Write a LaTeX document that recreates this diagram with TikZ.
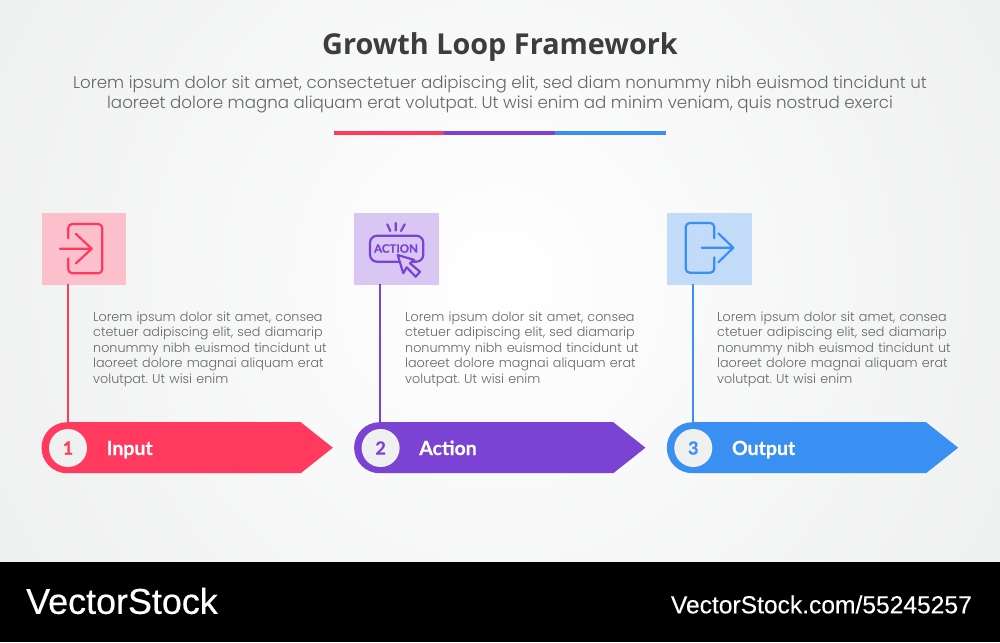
\documentclass[tikz,border=0pt]{standalone}
\usepackage{fontspec}
\setmainfont{Poppins Light}
\newfontfamily\titlefont{Open Sans}
\newfontfamily\labelfont[BoldFeatures={FakeBold=0.5}]{Lato}
\newfontfamily\brandfont[FakeBold=0.5]{Liberation Sans}
\newfontfamily\urlfont[FakeBold=0.2]{Liberation Sans}
\definecolor{cred}{HTML}{FF3A5E}
\definecolor{cpurple}{HTML}{7B43D3}
\definecolor{cblue}{HTML}{3A8FF3}
\definecolor{sred}{HTML}{FBC0CC}
\definecolor{spurple}{HTML}{D9C6F3}
\definecolor{sblue}{HTML}{C2DBF8}
\definecolor{txt}{HTML}{666666}
\definecolor{edge}{HTML}{EFF0F0}
\tikzset{
  icon/.style={line width=2.2pt,line cap=round,line join=round},
  square/.style={fill=#1,draw=none},
  para/.style={anchor=north west,inner sep=0pt,align=left,text=txt,font=\frenchspacing\fontsize{12.75}{15.5}\selectfont,text width=250pt},
  numtext/.style={font=\labelfont\bfseries\fontsize{18}{18}\selectfont},
  lab/.style={anchor=base west,inner sep=0pt,text=white,font=\labelfont\bfseries\fontsize{19.5}{20}\selectfont},
}
\newcommand{\bodytext}{Lorem ipsum dolor sit amet, consea\\ctetuer adipiscing elit, sed diamarip\\nonummy nibh euismod tincidunt ut\\laoreet dolore magnai aliquam erat\\volutpat. Ut wisi enim}
% #1 name, #2 x offset, #3 color, #4 square color, #5 number, #6 label, #7 text x
\newcommand{\column}[7]{%
  \begin{scope}[xshift=#2pt]
    \node[square=#4,anchor=north west,minimum width=84.5pt,minimum height=71.3pt,inner sep=0pt] (sq#1) at (41.5,213) {};
    \fill[#3] (67,473.2) arc[start angle=90,end angle=270,radius=25.5] -- (300.7,422.2) -- (332.8,447.7) -- (300.7,473.2) -- cycle;
    \coordinate (ban#1) at (67.7,422.5);
    \coordinate (sqb#1) at (67.7,284.3);
    \draw[#3,line width=2.2pt] (sqb#1) -- (ban#1);
    \node[circle,fill=edge,minimum size=38pt,inner sep=0pt,text=#3,numtext] (num#1) at (68,448) {#5};
    \node[lab] (lab#1) at (106.5,455) {#6};
    \node[para] (par#1) at (#7,311.5) {\bodytext};
  \end{scope}
}
\begin{document}
\begin{tikzpicture}[x=1pt,y=-1pt]
\useasboundingbox (0,0) rectangle (1000,642);
\begin{scope}
  \clip (0,0) rectangle (1000,562);
  \fill[edge] (0,0) rectangle (1000,562);
  \shade[inner color=white,outer color=edge] (500,281) circle (560);
\end{scope}
\fill[black] (0,562) rectangle (1000,642);
\node[inner sep=0pt,text=black!76,font=\titlefont\bfseries\fontsize{28.8}{30}\selectfont] (title) at (500,47) {Growth Loop Framework};
\node[inner sep=0pt,text=txt,align=center,font=\frenchspacing\fontsize{16.68}{19.5}\selectfont] (sub) at (500,94.5) {Lorem ipsum dolor sit amet, consectetuer adipiscing elit, sed diam nonummy nibh euismod tincidunt ut\\laoreet dolore magna aliquam erat volutpat. Ut wisi enim ad minim veniam, quis nostrud exerci};
\coordinate (r0) at (333.5,133);
\coordinate (r1) at (444,133);
\coordinate (r2) at (555,133);
\coordinate (r3) at (666,133);
\draw[cred,line width=3.4pt] (r0) -- (r1);
\draw[cpurple,line width=3.4pt] (r1) -- (r2);
\draw[cblue,line width=3.4pt] (r2) -- (r3);

\column{a}{0}{cred}{sred}{1}{Input}{93}
\column{b}{312.6}{cpurple}{spurple}{2}{Action}{92.4}
\column{c}{625.3}{cblue}{sblue}{3}{Output}{91.7}

% icon 1
\draw[cred,icon,rounded corners=4pt] (68.3,238.3) -- (68.3,224) -- (102.3,224) -- (102.3,273.3) -- (68.3,273.3) -- (68.3,258.3);
\draw[cred,icon] (60,248.7) -- (91.7,248.7) (76,234) -- (91.7,248.7) -- (76,263.3);
% icon 2
\draw[cpurple,icon,rounded corners=7pt] (370,235.7) rectangle (423.3,261.7);
\draw[cpurple,icon] (387.3,224.3) -- (390.3,231) (395.7,223) -- (395.7,230.5) (404.7,224.3) -- (401,231);
\node[inner sep=0pt,text=cpurple,font=\labelfont\bfseries\fontsize{11.5}{12}\selectfont] (act) at (396,248.5) {ACTION};
\draw[cpurple,icon,fill=spurple] (397.7,255) -- (414.3,260) -- (410,263.3) -- (420,271.7) -- (415.7,276.7) -- (406.7,267.3) -- (403.3,273.3) -- cycle;
% icon 3
\draw[cblue,icon,rounded corners=4pt] (714.3,238.3) -- (714.3,223) -- (685.7,223) -- (685.7,272.7) -- (714.3,272.7) -- (714.3,257.3);
\draw[cblue,icon] (701.7,247.7) -- (733.3,247.7) (718.3,233.3) -- (733.3,247.7) -- (718.3,262.3);

\node[anchor=west,inner sep=0pt,text=white,font=\brandfont\fontsize{35.9}{36}\selectfont] (brand) at (26,601) {VectorStock};
\node[anchor=east,inner sep=0pt,text=white,font=\urlfont\fontsize{24.6}{25}\selectfont] (url) at (972,604.5) {VectorStock.com/55245257};
\end{tikzpicture}
\end{document}
